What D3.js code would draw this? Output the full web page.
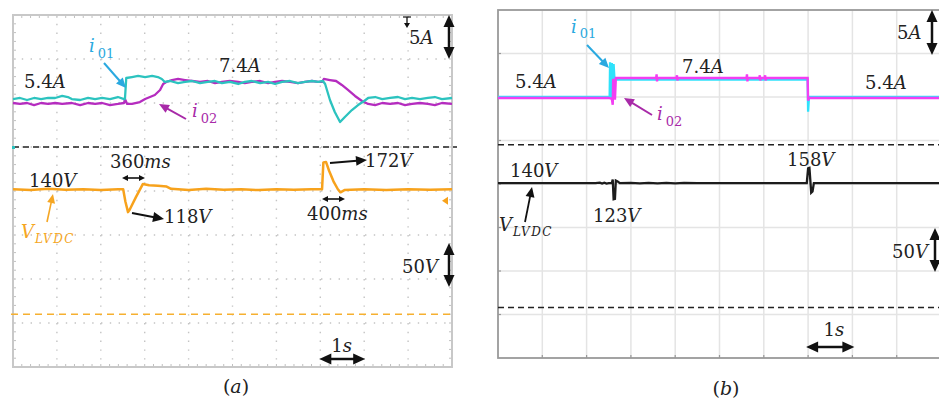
<!DOCTYPE html>
<html><head><meta charset="utf-8">
<script src="https://cdn.jsdelivr.net/npm/d3@7"></script>
<style>html,body{margin:0;padding:0;background:#fff;} svg{display:block;}</style>
</head><body><svg id="c" width="939" height="401"></svg>
<script>
// ---------------- DATA ----------------
const timeDomain = [0, 10];            // seconds, 1 s/div, 10 divisions
const gridDivisionsX = d3.range(1, 10);
const gridDivisionsY = d3.range(1, 8);
const currentDomainA = [-25, 15];      // A  (5 A/div)
const voltageDomainA = [-60, 340];     // V  (50 V/div)
const currentDomainB = [-24.5, 15.5];
const voltageDomainB = [-58, 342];

// (a) experimental traces  [t (s), value]
const i01A = [[0,5.45],[0.16,5.57],[0.32,5.34],[0.48,5.57],[0.64,5.45],[0.80,5.57],[0.96,5.57],[1.12,5.80],[1.25,5.68],[1.34,5.45],[1.53,5.34],[1.71,5.57],[1.87,5.45],[2.03,5.57],[2.21,5.45],[2.39,5.68],[2.53,5.45],[2.55,5.45],[2.58,7.84],[2.71,7.95],[2.85,8.07],[3.01,7.95],[3.17,8.07],[3.30,7.95],[3.39,7.73],[3.46,7.39],[3.58,7.50],[3.76,7.27],[3.92,7.39],[4.08,7.50],[4.26,7.27],[4.44,7.39],[4.60,7.50],[4.76,7.27],[4.94,7.39],[5.13,7.16],[5.28,7.39],[5.44,7.50],[5.63,7.27],[5.81,7.39],[5.97,7.16],[6.13,7.39],[6.31,7.50],[6.49,7.27],[6.65,7.39],[6.81,7.50],[6.95,7.39],[7.06,7.50],[7.11,7.16],[7.22,5.34],[7.33,3.98],[7.45,2.84],[7.56,3.41],[7.72,4.20],[7.86,4.77],[8.00,5.23],[8.09,5.57],[8.25,5.68],[8.41,5.45],[8.59,5.57],[8.77,5.68],[8.93,5.45],[9.09,5.57],[9.27,5.45],[9.45,5.57],[9.61,5.68],[9.77,5.45],[10,5.57]];
const i02A = [[0,5.0],[0.16,4.89],[0.32,5.0],[0.48,4.77],[0.64,5.0],[0.80,4.89],[0.96,5.0],[1.12,4.89],[1.34,5.0],[1.53,4.77],[1.71,5.0],[1.87,4.89],[2.03,5.0],[2.21,4.77],[2.39,4.89],[2.53,5.0],[2.55,5.45],[2.60,4.89],[2.71,4.89],[2.89,5.11],[3.01,5.45],[3.12,5.68],[3.23,5.91],[3.35,6.48],[3.42,7.16],[3.49,7.39],[3.62,7.61],[3.76,7.73],[3.92,7.61],[4.08,7.50],[4.26,7.39],[4.44,7.50],[4.60,7.27],[4.76,7.39],[4.94,7.50],[5.13,7.39],[5.28,7.27],[5.44,7.39],[5.63,7.50],[5.81,7.27],[5.97,7.39],[6.13,7.50],[6.31,7.39],[6.49,7.27],[6.65,7.39],[6.81,7.50],[6.95,7.39],[7.04,7.39],[7.08,7.73],[7.22,7.61],[7.36,7.50],[7.49,7.05],[7.63,6.48],[7.79,5.80],[7.95,5.23],[8.09,4.89],[8.25,4.77],[8.41,5.0],[8.59,4.89],[8.77,5.0],[8.93,4.77],[9.09,4.89],[9.27,5.0],[9.45,4.89],[9.61,4.77],[9.77,5.0],[10,4.89]];
const vdcA = [[0,142],[0.4,141],[0.8,142.5],[1.2,141.5],[1.6,142],[2.0,141],[2.4,142],[2.51,142],[2.56,128],[2.62,116],[2.66,119],[2.80,133],[2.96,148],[3.10,146.5],[3.30,146],[3.50,145],[3.60,142.5],[4.0,141],[4.4,142.5],[4.8,141.5],[5.2,142],[5.6,141],[6.0,142],[6.4,141.5],[6.8,142],[7.04,142],[7.07,172.5],[7.13,173],[7.20,163],[7.30,151],[7.40,142],[7.46,138.5],[7.55,141],[8.0,142],[8.5,141],[9.0,142],[9.5,141.5],[10,142]];

// (b) simulated traces
const i01B = [[0,5.5],[2.52,5.5],[2.53,9.5],[2.55,5.3],[2.57,9.4],[2.59,6.0],[2.61,9.3],[2.63,7.5],[6.99,7.5],[7.0,3.8],[7.02,5.5],[10,5.5]];
const i02B = [[0,5.39],[2.50,5.39],[2.57,5.3],[2.59,4.6],[2.60,7.45],[2.62,7.45],[2.64,5.2],[2.66,7.7],[3.57,7.68],[3.58,8.1],[3.59,7.3],[3.60,7.68],[4.03,7.68],[4.04,8.0],[4.05,7.4],[4.06,7.68],[5.61,7.68],[5.62,8.1],[5.63,7.3],[5.64,7.68],[5.90,7.68],[5.91,8.0],[5.92,7.4],[5.93,7.68],[6.02,7.68],[6.03,8.0],[6.04,7.4],[6.05,7.68],[6.99,7.68],[7.0,5.1],[7.02,5.39],[10,5.39]];
const vdcB = [[0,143],[2.2,143],[2.3,143.5],[2.35,142.5],[2.4,143.5],[2.45,142.5],[2.5,143],[2.57,143],[2.59,147],[2.61,124.5],[2.64,125],[2.66,146],[2.70,145],[2.75,143],[3.0,143.4],[3.2,142.7],[3.4,143.4],[3.6,142.7],[3.8,143.4],[4.0,142.7],[4.2,143.3],[4.5,143],[6.97,143],[7.0,160],[7.03,160.5],[7.07,132],[7.10,133.5],[7.13,143],[10,143]];

// ---------------- DRAW ----------------
const svg = d3.select('#c');
const FONT = "'DejaVu Serif', serif";
const TXT = '#222';

function head(g, x1, y1, x2, y2, color, len, wid) {
  const dx = x2 - x1, dy = y2 - y1, L = Math.hypot(dx, dy);
  const ux = dx / L, uy = dy / L, px = -uy, py = ux;
  const bx = x2 - ux * len, by = y2 - uy * len;
  g.append('path').attr('d', `M${x2},${y2}L${bx + px * wid / 2},${by + py * wid / 2}L${bx - px * wid / 2},${by - py * wid / 2}Z`).attr('fill', color);
  return [bx + ux * 1, by + uy * 1];
}
function arrow(g, x1, y1, x2, y2, o) {
  const c = o.color || '#111';
  const [bx, by] = head(g, x1, y1, x2, y2, c, o.len || 10, o.wid || 9);
  let sx = x1, sy = y1;
  if (o.both) { [sx, sy] = head(g, x2, y2, x1, y1, c, o.len || 10, o.wid || 9); }
  g.append('line').attr('x1', sx).attr('y1', sy).attr('x2', bx).attr('y2', by)
    .attr('stroke', c).attr('stroke-width', o.w || 2);
}
function txt(g, x, y, parts, o = {}) {
  const t = g.append('text').attr('x', x).attr('y', y).attr('fill', o.color || TXT)
    .style('font-family', FONT).style('font-size', (o.size || 18) + 'px');
  parts.forEach(p => {
    const s = t.append('tspan').text(p[0]);
    if (p[1]) s.style('font-style', 'italic');
    if (p[2]) s.style('font-size', p[2] + 'px');
    if (p[3]) s.attr('dx', p[3]);
    if (p[4]) s.attr('dy', p[4]);
    if (p[5]) s.style('letter-spacing', p[5] + 'px');
  });
  return t;
}

// ===== Panel (a) =====
const A = {x0: 13, x1: 452, y0: 15, y1: 367};
const xA = d3.scaleLinear().domain(timeDomain).range([A.x0, A.x1]);
const divA = d3.scaleLinear().domain([0, 8]).range([A.y1, A.y0]);
const yIA = d3.scaleLinear().domain(currentDomainA).range([A.y1, A.y0]);
const yVA = d3.scaleLinear().domain(voltageDomainA).range([A.y1, A.y0]);
const gA = svg.append('g');

gA.selectAll('.vg').data(gridDivisionsX).join('line')
  .attr('x1', d => xA(d)).attr('x2', d => xA(d)).attr('y1', A.y0).attr('y2', A.y1)
  .attr('stroke', '#c4c4c4').attr('stroke-width', 1.4).attr('stroke-dasharray', '1.4,7.4');
gA.selectAll('.hg').data(gridDivisionsY).join('line')
  .attr('y1', d => divA(d)).attr('y2', d => divA(d)).attr('x1', A.x0).attr('x2', A.x1)
  .attr('stroke', '#c4c4c4').attr('stroke-width', 1.4).attr('stroke-dasharray', '1.4,7.4');
const minorX = d3.range(0.2, 10, 0.2), minorY = d3.range(0.2, 8, 0.2);
gA.selectAll('.mt').data(minorX).join('line').attr('x1', d => xA(d)).attr('x2', d => xA(d))
  .attr('y1', A.y0).attr('y2', A.y0 + 3).attr('stroke', '#c0c0c0');
gA.selectAll('.mb').data(minorX).join('line').attr('x1', d => xA(d)).attr('x2', d => xA(d))
  .attr('y1', A.y1).attr('y2', A.y1 - 3).attr('stroke', '#c0c0c0');
gA.selectAll('.ml').data(minorY).join('line').attr('y1', d => divA(d)).attr('y2', d => divA(d))
  .attr('x1', A.x0).attr('x2', A.x0 + 3).attr('stroke', '#c0c0c0');
gA.selectAll('.mr').data(minorY).join('line').attr('y1', d => divA(d)).attr('y2', d => divA(d))
  .attr('x1', A.x1).attr('x2', A.x1 - 3).attr('stroke', '#c0c0c0');
gA.append('rect').attr('x', A.x0).attr('y', A.y0).attr('width', A.x1 - A.x0).attr('height', A.y1 - A.y0)
  .attr('fill', 'none').attr('stroke', '#c8c8c8').attr('stroke-width', 2);

gA.append('line').attr('x1', A.x0).attr('x2', A.x1 + 5).attr('y1', yIA(0)).attr('y2', yIA(0))
  .attr('stroke', '#222').attr('stroke-width', 1.5).attr('stroke-dasharray', '6,4');
gA.append('line').attr('x1', A.x0 - 2).attr('x2', A.x1 + 3).attr('y1', yVA(0)).attr('y2', yVA(0))
  .attr('stroke', '#f6b030').attr('stroke-width', 1.5).attr('stroke-dasharray', '7,5');

const lineIA = d3.line().x(d => xA(d[0])).y(d => yIA(d[1]));
const lineVA = d3.line().x(d => xA(d[0])).y(d => yVA(d[1]));
gA.append('path').attr('d', lineIA(i02A)).attr('fill', 'none').attr('stroke', '#b52cbf').attr('stroke-width', 2.3).attr('stroke-linejoin', 'round');
gA.append('path').attr('d', lineIA(i01A)).attr('fill', 'none').attr('stroke', '#2cc3bf').attr('stroke-width', 2.3).attr('stroke-linejoin', 'round');
gA.append('path').attr('d', lineVA(vdcA)).attr('fill', 'none').attr('stroke', '#f7a21c').attr('stroke-width', 2.5).attr('stroke-linejoin', 'round');

gA.append('path').attr('d', `M${A.x1 - 10},${yVA(129)}l6,-4v8z`).attr('fill', '#f7a21c');
gA.append('rect').attr('x', A.x0 - 1).attr('y', yIA(0) - 1).attr('width', 3).attr('height', 3).attr('fill', '#2cc3bf');

txt(gA, 24, 88, [['5.4'], ['A', 1]]);
txt(gA, 219, 72, [['7.4'], ['A', 1]]);
txt(gA, 89, 52, [['i', 1], ['01', 0, 13, 3, 6]], {color: '#2aa9e0'});
arrow(gA, 104, 63, 126, 88, {color: '#2aa9e0', w: 2, len: 10, wid: 9});
txt(gA, 192, 117, [['i', 1], ['02', 0, 13, 3, 6]], {color: '#a82aa8'});
arrow(gA, 186, 119, 159, 104, {color: '#a82aa8', w: 2, len: 10, wid: 9});
txt(gA, 409, 44, [['5'], ['A', 1]]);
arrow(gA, 407, 17, 407, 28, {w: 1.3, len: 5, wid: 6});
gA.append('line').attr('x1', 403).attr('x2', 411).attr('y1', 17).attr('y2', 17).attr('stroke', '#111').attr('stroke-width', 1.2);
arrow(gA, 449, 15, 449, 59, {both: 1, w: 2.5, len: 12, wid: 11});
txt(gA, 29, 187, [['140'], ['V', 1]]);
txt(gA, 110, 168, [['360'], ['ms', 1]]);
arrow(gA, 122, 178, 145, 178, {both: 1, w: 1.6, len: 6, wid: 6});
txt(gA, 164, 223, [['118'], ['V', 1]]);
arrow(gA, 132, 213, 164, 219, {w: 2, len: 11, wid: 10});
txt(gA, 365, 167, [['172'], ['V', 1]]);
arrow(gA, 330, 163, 367, 160, {w: 2, len: 11, wid: 10});
txt(gA, 307, 220, [['400'], ['ms', 1]]);
arrow(gA, 322, 199, 345, 199, {both: 1, w: 1.6, len: 6, wid: 6});
txt(gA, 21, 238, [['V', 1], ['LVDC', 1, 12, 1, 5, 1.5]], {color: '#f5a623'});
arrow(gA, 47, 222, 53, 194, {color: '#f5a623', w: 1.6, len: 9, wid: 8});
txt(gA, 402, 273, [['50'], ['V', 1]]);
arrow(gA, 449, 243, 449, 287, {both: 1, w: 2.5, len: 12, wid: 11});
txt(gA, xA(7.25), 352, [['1'], ['s', 1]]);
arrow(gA, xA(7) - 1, 359, xA(8) + 1, 359, {both: 1, w: 2.5, len: 12, wid: 11});
txt(gA, 236, 393, [['('], ['a', 1], [')']], {size: 19}).attr('text-anchor', 'middle');

// ===== Panel (b) =====
const B = {x0: 498, x1: 941, y0: 10, y1: 358};
const xB = d3.scaleLinear().domain(timeDomain).range([B.x0, B.x1]);
const divB = d3.scaleLinear().domain([0, 8]).range([B.y1, B.y0]);
const yIB = d3.scaleLinear().domain(currentDomainB).range([B.y1, B.y0]);
const yVB = d3.scaleLinear().domain(voltageDomainB).range([B.y1, B.y0]);
const gB = svg.append('g');

gB.selectAll('.vg').data(gridDivisionsX).join('line')
  .attr('x1', d => xB(d)).attr('x2', d => xB(d)).attr('y1', B.y0).attr('y2', B.y1)
  .attr('stroke', '#e4e4e4').attr('stroke-width', 1.5);
gB.selectAll('.hg').data(gridDivisionsY).join('line')
  .attr('y1', d => divB(d)).attr('y2', d => divB(d)).attr('x1', B.x0).attr('x2', B.x1)
  .attr('stroke', '#e4e4e4').attr('stroke-width', 1.5);
gB.selectAll('.tb').data(gridDivisionsX).join('line').attr('x1', d => xB(d)).attr('x2', d => xB(d))
  .attr('y1', B.y1).attr('y2', B.y1 - 3).attr('stroke', '#999').attr('stroke-width', 1.2);
gB.selectAll('.tl').data(gridDivisionsY).join('line').attr('y1', d => divB(d)).attr('y2', d => divB(d))
  .attr('x1', B.x0).attr('x2', B.x0 + 3).attr('stroke', '#999').attr('stroke-width', 1.2);
gB.append('rect').attr('x', B.x0).attr('y', B.y0).attr('width', B.x1 - B.x0).attr('height', B.y1 - B.y0)
  .attr('fill', 'none').attr('stroke', '#9a9a9a').attr('stroke-width', 1.8);

gB.append('line').attr('x1', B.x0).attr('x2', 939).attr('y1', yIB(0)).attr('y2', yIB(0))
  .attr('stroke', '#222').attr('stroke-width', 1.5).attr('stroke-dasharray', '6,4');
gB.append('line').attr('x1', B.x0).attr('x2', 939).attr('y1', yVB(0)).attr('y2', yVB(0))
  .attr('stroke', '#222').attr('stroke-width', 1.5).attr('stroke-dasharray', '6,4');

const lineIB = d3.line().x(d => xB(d[0])).y(d => yIB(d[1]));
const lineVB = d3.line().x(d => xB(d[0])).y(d => yVB(d[1]));
gB.append('path').attr('d', lineIB(i01B)).attr('fill', 'none').attr('stroke', '#2fe2fb').attr('stroke-width', 2.3);
gB.append('path').attr('d', lineIB(i02B)).attr('fill', 'none').attr('stroke', '#f23ef2').attr('stroke-width', 2.4);
gB.append('path').attr('d', lineVB(vdcB)).attr('fill', 'none').attr('stroke', '#1c1c1c').attr('stroke-width', 2.3);

txt(gB, 515, 88, [['5.4'], ['A', 1]]);
txt(gB, 682, 73, [['7.4'], ['A', 1]]);
txt(gB, 865, 89, [['5.4'], ['A', 1]]);
txt(gB, 571, 33, [['i', 1], ['01', 0, 13, 3, 5]], {color: '#2aa9e0'});
arrow(gB, 587, 45, 609, 68, {color: '#2aa9e0', w: 2, len: 10, wid: 9});
txt(gB, 657, 120, [['i', 1], ['02', 0, 13, 3, 6]], {color: '#a82aa8'});
arrow(gB, 652, 115, 624, 98, {color: '#a82aa8', w: 2, len: 10, wid: 9});
txt(gB, 897, 39, [['5'], ['A', 1]]);
arrow(gB, 932, 10, 932, 55, {both: 1, w: 2.5, len: 12, wid: 11});
txt(gB, 510, 177, [['140'], ['V', 1]]);
txt(gB, 787, 166, [['158'], ['V', 1]]);
txt(gB, 593, 222, [['123'], ['V', 1]]);
txt(gB, 499, 231, [['V', 1], ['LVDC', 1, 12, 1, 5, 1.5]]);
arrow(gB, 525, 222, 532, 187, {w: 1.8, len: 10, wid: 9});
txt(gB, 892, 258, [['50'], ['V', 1]]);
arrow(gB, 935, 228, 935, 272, {both: 1, w: 2.5, len: 12, wid: 11});
txt(gB, xB(7.35), 336, [['1'], ['s', 1]]);
arrow(gB, xB(7) - 2, 347, xB(8) + 2, 347, {both: 1, w: 2.5, len: 12, wid: 11});
txt(gB, 726, 395, [['('], ['b', 1], [')']], {size: 19}).attr('text-anchor', 'middle');
</script>
</body></html>
